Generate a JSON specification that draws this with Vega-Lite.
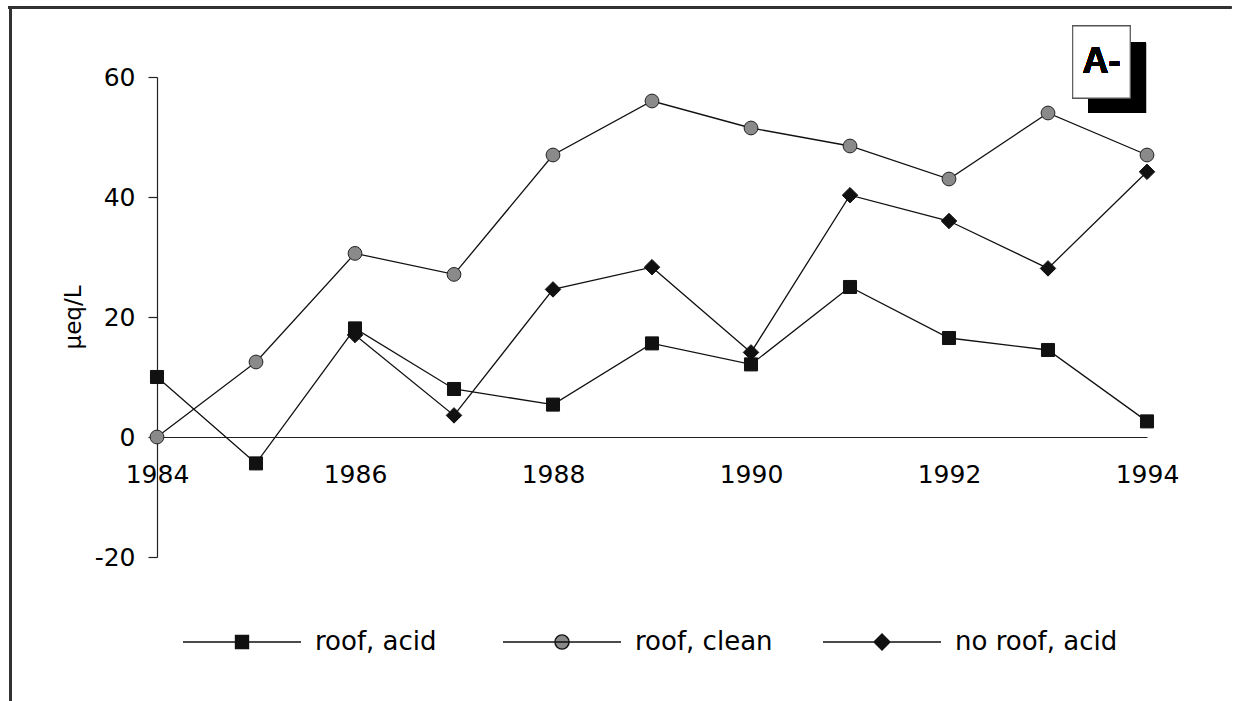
{
  "$schema": "https://vega.github.io/schema/vega-lite/v6.json",
  "width": 990,
  "height": 480,
  "autosize": {"type": "none"},
  "padding": {"left": 157, "top": 77, "right": 86, "bottom": 144},
  "background": "white",
  "config": {
    "view": {"stroke": null},
    "legend": {
      "orient": "none", "legendX": 25, "legendY": 505, "direction": "horizontal", "columns": 3,
      "padding": 0,
      "labelFont": "DejaVu Sans", "labelFontSize": 26, "labelColor": "black", "labelOffset": 13,
      "labelLimit": 400, "columnPadding": 22, "gridAlign": "all",
      "symbolSize": 13924, "symbolStrokeWidth": 1.4, "symbolOpacity": 1
    }
  },
  "data": {
    "values": [
      {"year": 1984, "value": 10, "series": "roof, acid"},
      {"year": 1985, "value": -4.4, "series": "roof, acid"},
      {"year": 1986, "value": 18.1, "series": "roof, acid"},
      {"year": 1987, "value": 8, "series": "roof, acid"},
      {"year": 1988, "value": 5.4, "series": "roof, acid"},
      {"year": 1989, "value": 15.6, "series": "roof, acid"},
      {"year": 1990, "value": 12.1, "series": "roof, acid"},
      {"year": 1991, "value": 25, "series": "roof, acid"},
      {"year": 1992, "value": 16.5, "series": "roof, acid"},
      {"year": 1993, "value": 14.5, "series": "roof, acid"},
      {"year": 1994, "value": 2.6, "series": "roof, acid"},
      {"year": 1984, "value": 0, "series": "roof, clean"},
      {"year": 1985, "value": 12.5, "series": "roof, clean"},
      {"year": 1986, "value": 30.6, "series": "roof, clean"},
      {"year": 1987, "value": 27.1, "series": "roof, clean"},
      {"year": 1988, "value": 47, "series": "roof, clean"},
      {"year": 1989, "value": 56, "series": "roof, clean"},
      {"year": 1990, "value": 51.5, "series": "roof, clean"},
      {"year": 1991, "value": 48.5, "series": "roof, clean"},
      {"year": 1992, "value": 43, "series": "roof, clean"},
      {"year": 1993, "value": 54, "series": "roof, clean"},
      {"year": 1994, "value": 47, "series": "roof, clean"},
      {"year": 1986, "value": 17, "series": "no roof, acid"},
      {"year": 1987, "value": 3.6, "series": "no roof, acid"},
      {"year": 1988, "value": 24.6, "series": "no roof, acid"},
      {"year": 1989, "value": 28.3, "series": "no roof, acid"},
      {"year": 1990, "value": 14.1, "series": "no roof, acid"},
      {"year": 1991, "value": 40.3, "series": "no roof, acid"},
      {"year": 1992, "value": 36, "series": "no roof, acid"},
      {"year": 1993, "value": 28.1, "series": "no roof, acid"},
      {"year": 1994, "value": 44.2, "series": "no roof, acid"}
    ]
  },
  "layer": [
    {
      "mark": {"type": "rule", "stroke": "#333", "strokeWidth": 1.5, "clip": false},
      "encoding": {"x": {"datum": 1982.5}, "x2": {"datum": 1994.85}, "y": {"datum": 71.6}}
    },
    {
      "mark": {"type": "rule", "stroke": "#333", "strokeWidth": 1.5, "clip": false},
      "encoding": {"x": {"datum": 1982.52}, "y": {"datum": 71.6}, "y2": {"datum": -44}}
    },
    {
      "mark": {"type": "line", "stroke": "#111", "strokeWidth": 1.3, "clip": false},
      "encoding": {
        "x": {
          "field": "year", "type": "quantitative",
          "scale": {"domain": [1984, 1994], "nice": false, "zero": false},
          "axis": {
            "orient": "bottom", "offset": -120, "values": [1984, 1986, 1988, 1990, 1992, 1994],
            "format": "d", "ticks": false, "title": null, "grid": false,
            "labelFont": "DejaVu Sans", "labelFontSize": 25, "labelColor": "black",
            "labelPadding": 25, "labelFlush": false, "labelOverlap": false,
            "domainColor": "#222", "domainWidth": 1.2
          }
        },
        "y": {
          "field": "value", "type": "quantitative",
          "title": "µeq/L",
          "scale": {"domain": [-20, 60], "nice": false, "zero": false},
          "axis": {
            "values": [-20, 0, 20, 40, 60], "title": "µeq/L", "grid": false,
            "titleFont": "DejaVu Sans", "titleFontSize": 23, "titleFontWeight": "normal",
            "titleColor": "black", "titlePadding": 9,
            "labelExpr": "datum.value < 0 ? '-' + abs(datum.value) : '' + datum.value",
            "labelFont": "DejaVu Sans", "labelFontSize": 25, "labelColor": "black",
            "labelPadding": 13, "tickSize": 9, "tickColor": "#222", "tickWidth": 1.2,
            "domainColor": "#222", "domainWidth": 1.2
          }
        },
        "detail": {"field": "series"}
      }
    },
    {
      "transform": [{"filter": "datum.series === 'roof, acid'"}],
      "mark": {"type": "point", "shape": "square", "filled": true, "opacity": 1, "fill": "#111", "stroke": "#111", "strokeWidth": 1, "size": 170, "clip": false},
      "encoding": {
        "x": {"field": "year", "type": "quantitative"},
        "y": {"field": "value", "type": "quantitative", "title": "µeq/L"}
      }
    },
    {
      "transform": [{"filter": "datum.series === 'roof, clean'"}],
      "mark": {"type": "point", "shape": "circle", "filled": true, "opacity": 1, "fill": "#8a8a8a", "stroke": "#222", "strokeWidth": 1, "size": 190, "clip": false},
      "encoding": {
        "x": {"field": "year", "type": "quantitative"},
        "y": {"field": "value", "type": "quantitative", "title": "µeq/L"}
      }
    },
    {
      "transform": [{"filter": "datum.series === 'no roof, acid'"}],
      "mark": {"type": "point", "shape": "diamond", "filled": true, "opacity": 1, "fill": "#111", "stroke": "#111", "strokeWidth": 1, "size": 240, "clip": false},
      "encoding": {
        "x": {"field": "year", "type": "quantitative"},
        "y": {"field": "value", "type": "quantitative", "title": "µeq/L"}
      }
    },
    {
      "mark": {"type": "point", "filled": true, "opacity": 0, "strokeWidth": 1.4, "clip": false},
      "encoding": {
        "x": {"field": "year", "type": "quantitative"},
        "y": {"field": "value", "type": "quantitative", "title": "µeq/L"},
        "shape": {
          "field": "series", "type": "nominal", "title": null,
          "scale": {
            "domain": ["roof, acid", "roof, clean", "no roof, acid"],
            "range": [
              "M-1,0H1M-0.11,-0.11H0.11V0.11H-0.11Z",
              "M-1,0H1M0.12,0A0.12,0.12,0,1,1,-0.12,0A0.12,0.12,0,1,1,0.12,0Z",
              "M-1,0H1M-0.135,0L0,-0.135L0.135,0L0,0.135Z"
            ]
          }
        },
        "fill": {
          "field": "series", "type": "nominal", "title": null,
          "scale": {"domain": ["roof, acid", "roof, clean", "no roof, acid"], "range": ["#111", "#8a8a8a", "#111"]}
        },
        "stroke": {
          "field": "series", "type": "nominal", "title": null,
          "scale": {"domain": ["roof, acid", "roof, clean", "no roof, acid"], "range": ["#111", "#111", "#111"]}
        }
      }
    },
    {
      "mark": {"type": "rect", "fill": "black", "clip": false},
      "encoding": {"x": {"datum": 1993.41}, "x2": {"datum": 1993.99}, "y": {"datum": 65.8}, "y2": {"datum": 54}}
    },
    {
      "mark": {"type": "rect", "fill": "white", "stroke": "#555", "strokeWidth": 1, "clip": false},
      "encoding": {"x": {"datum": 1993.25}, "x2": {"datum": 1993.83}, "y": {"datum": 68.5}, "y2": {"datum": 56.5}}
    },
    {
      "mark": {"type": "text", "text": "A-", "font": "Liberation Sans", "fontSize": 36, "fontWeight": "bold", "color": "black", "align": "center", "baseline": "middle", "clip": false},
      "encoding": {"x": {"datum": 1993.54}, "y": {"datum": 62.5}}
    }
  ]
}
